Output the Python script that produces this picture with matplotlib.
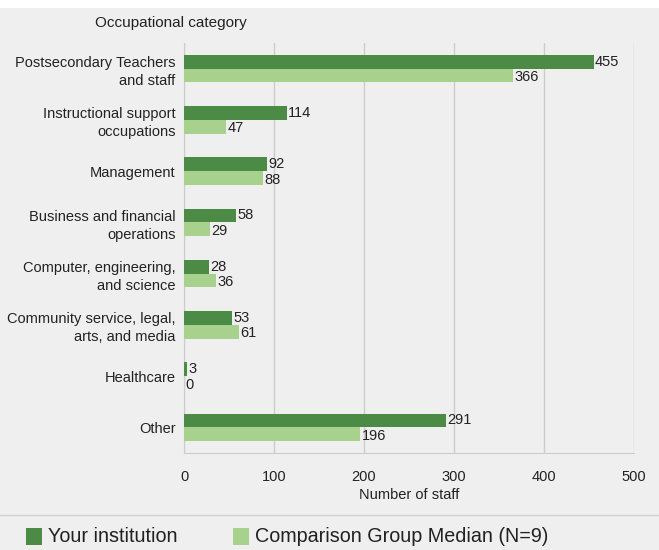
import matplotlib
matplotlib.use('Agg')
import matplotlib.pyplot as plt
import numpy as np
from matplotlib.patches import Rectangle
from matplotlib.lines import Line2D

categories = ['Postsecondary Teachers\nand staff', 'Instructional support\noccupations',
              'Management', 'Business and financial\noperations',
              'Computer, engineering,\nand science', 'Community service, legal,\narts, and media',
              'Healthcare', 'Other']
yours = [455, 114, 92, 58, 28, 53, 3, 291]
comparison = [366, 47, 88, 29, 36, 61, 0, 196]
series_names = ['Your institution', 'Comparison Group Median (N=9)']

dark = '#4b8b45'
light = '#a9d18e'
bg = '#efefef'
txt = '#222222'

plt.rcParams['font.family'] = ['Liberation Sans Narrow', 'Liberation Sans', 'DejaVu Sans']

fig = plt.figure(figsize=(6.59, 5.5), dpi=100, facecolor='white')
# gray panel behind everything
fig.patches.append(Rectangle((0, 0.0), 1, 0.985, transform=fig.transFigure,
                             facecolor=bg, edgecolor='none', zorder=-10))
fig.lines.append(Line2D([0, 1], [1 - 515 / 550] * 2, transform=fig.transFigure,
                        color='#cfcfcf', lw=1))

ax = fig.add_axes([184 / 659, 1 - 453 / 550, 450 / 659, 410 / 550])
ax.set_facecolor(bg)

y = np.arange(len(categories))
h = 0.27
ax.barh(y - h / 2, yours, height=h, color=dark, zorder=3)
ax.barh(y + h / 2, comparison, height=h, color=light, zorder=3)

for i in range(len(categories)):
    ax.text(yours[i] + 1.5, y[i] - h / 2, str(yours[i]), va='center', ha='left', fontsize=10.5, color=txt)
    ax.text(comparison[i] + 1.5, y[i] + h / 2 + 0.03, str(comparison[i]), va='center', ha='left', fontsize=10.5, color=txt)

ax.set_ylim(len(categories) - 0.5, -0.5)
ax.set_xlim(0, 500)
ax.set_xticks([0, 100, 200, 300, 400, 500])
ax.set_yticks(y)
ax.set_yticklabels(categories, fontsize=10.5, color=txt, linespacing=1.35)
ax.tick_params(axis='x', labelsize=10.5, colors=txt, length=0, pad=12)
ax.tick_params(axis='y', length=0, pad=6)
ax.grid(axis='x', color='#cccccc', lw=1, zorder=0)
for s in ['top', 'right']:
    ax.spines[s].set_visible(False)
ax.spines['left'].set_color('#cccccc')
ax.spines['bottom'].set_color('#cccccc')
ax.set_xlabel('Number of staff', fontsize=10.5, color=txt, labelpad=3)

fig.text(95 / 659, 1 - 23 / 550, 'Occupational category', fontsize=11, color=txt, va='center', ha='left')

# legend
for x0, col, name in [(26, dark, series_names[0]), (233, light, series_names[1])]:
    fig.patches.append(Rectangle((x0 / 659, 1 - 545 / 550), 16 / 659, 17 / 550,
                                 transform=fig.transFigure, facecolor=col, edgecolor='none'))
    fig.text((x0 + 22) / 659, 1 - 537 / 550, name, fontsize=14.2, color=txt, va='center', ha='left')

plt.savefig('out.png', dpi=100, facecolor=fig.get_facecolor())
